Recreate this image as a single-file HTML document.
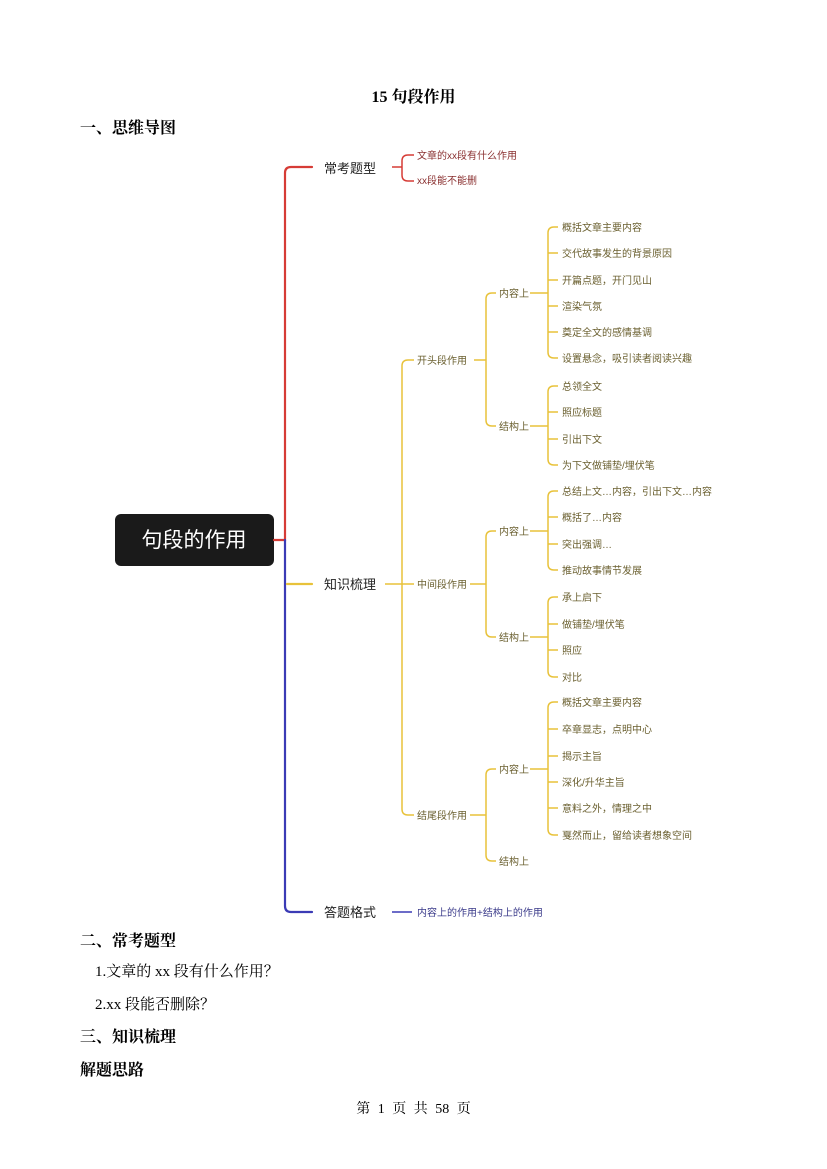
<!DOCTYPE html>
<html><head><meta charset="utf-8"><style>
html,body{margin:0;padding:0;background:#fff;}
body{width:827px;height:1169px;position:relative;overflow:hidden;font-family:"Liberation Serif","Noto Serif CJK SC","Noto Sans CJK SC",serif;color:#000;}
.t{position:absolute;white-space:nowrap;}
svg{position:absolute;left:0;top:0;}
svg text{font-family:"Liberation Sans","Noto Sans CJK SC",sans-serif;}
</style></head><body>
<div class="t" style="left:0;width:827px;text-align:center;top:84px;font-size:16px;font-weight:bold;">15 句段作用</div>
<div class="t" style="left:80px;top:115px;font-size:16px;font-weight:bold;">一、思维导图</div>
<svg width="827" height="1169" viewBox="0 0 827 1169" fill="none">
<rect x="115" y="514" width="159" height="52" rx="6" fill="#1a1a1a"/>
<text x="194" y="547" fill="#fff" font-size="21" text-anchor="middle">句段的作用</text>
<g stroke-width="2.2" stroke-linecap="round">
<path d="M274 540 H285 V173 Q285 167 291 167 H312" stroke="#d63c36"/>
<path d="M285 540 V906 Q285 912 291 912 H312" stroke="#3b3bb5"/>
<path d="M287 584 H312" stroke="#e8c23a"/>
</g>
<g stroke="#d63c36" stroke-width="1.5">
<path d="M392 167 H402"/>
<path d="M414 155 H408 Q402 155 402 161 V175 Q402 181 408 181 H414"/>
</g>
<path d="M392 912 H412" stroke="#3b3bb5" stroke-width="1.5"/>
<g stroke="#e8c23a" stroke-width="1.5">
<path d="M414 360 H408 Q402 360 402 366 V809 Q402 815 408 815 H414 M385 584 H414"/>
<path d="M474 360 H486 M496 293 H492 Q486 293 486 299 V420 Q486 426 492 426 H496"/>
<path d="M530 293 H548 M558 227 H554 Q548 227 548 233 V352 Q548 358 554 358 H558 M548 253 H558 M548 280 H558 M548 306 H558 M548 332 H558"/>
<path d="M530 426 H548 M558 386 H554 Q548 386 548 392 V459 Q548 465 554 465 H558 M548 412 H558 M548 439 H558"/>
<path d="M470 584 H486 M496 531 H492 Q486 531 486 537 V631 Q486 637 492 637 H496"/>
<path d="M530 531 H548 M558 491 H554 Q548 491 548 497 V564 Q548 570 554 570 H558 M548 517 H558 M548 544 H558"/>
<path d="M530 637 H548 M558 597 H554 Q548 597 548 603 V671 Q548 677 554 677 H558 M548 624 H558 M548 650 H558"/>
<path d="M470 815 H486 M496 769 H492 Q486 769 486 775 V855 Q486 861 492 861 H496"/>
<path d="M530 769 H548 M558 702 H554 Q548 702 548 708 V829 Q548 835 554 835 H558 M548 729 H558 M548 756 H558 M548 782 H558 M548 808 H558"/>
</g>
<g font-size="13" fill="#222">
<text x="324" y="173">常考题型</text>
<text x="324" y="589">知识梳理</text>
<text x="324" y="917">答题格式</text>
</g>
<g font-size="10" fill="#8a3030">
<text x="417" y="159">文章的xx段有什么作用</text>
<text x="417" y="184">xx段能不能删</text>
</g>
<text x="417" y="916" font-size="10" fill="#3a3a8a">内容上的作用+结构上的作用</text>
<g font-size="10" fill="#6b6030">
<text x="417" y="364">开头段作用</text>
<text x="417" y="588">中间段作用</text>
<text x="417" y="819">结尾段作用</text>
<text x="499" y="297">内容上</text>
<text x="499" y="430">结构上</text>
<text x="499" y="535">内容上</text>
<text x="499" y="641">结构上</text>
<text x="499" y="773">内容上</text>
<text x="499" y="865">结构上</text>
</g>
<g font-size="10" fill="#6b6030">
<text x="562" y="231">概括文章主要内容</text>
<text x="562" y="257">交代故事发生的背景原因</text>
<text x="562" y="284">开篇点题，开门见山</text>
<text x="562" y="310">渲染气氛</text>
<text x="562" y="336">奠定全文的感情基调</text>
<text x="562" y="362">设置悬念，吸引读者阅读兴趣</text>
<text x="562" y="390">总领全文</text>
<text x="562" y="416">照应标题</text>
<text x="562" y="443">引出下文</text>
<text x="562" y="469">为下文做铺垫/埋伏笔</text>
<text x="562" y="495">总结上文…内容，引出下文…内容</text>
<text x="562" y="521">概括了…内容</text>
<text x="562" y="548">突出强调…</text>
<text x="562" y="574">推动故事情节发展</text>
<text x="562" y="601">承上启下</text>
<text x="562" y="628">做铺垫/埋伏笔</text>
<text x="562" y="654">照应</text>
<text x="562" y="681">对比</text>
<text x="562" y="706">概括文章主要内容</text>
<text x="562" y="733">卒章显志，点明中心</text>
<text x="562" y="760">揭示主旨</text>
<text x="562" y="786">深化/升华主旨</text>
<text x="562" y="812">意料之外，情理之中</text>
<text x="562" y="839">戛然而止，留给读者想象空间</text>
</g>
</svg>
<div class="t" style="left:80px;top:928px;font-size:16px;font-weight:bold;">二、常考题型</div>
<div class="t" style="left:95px;top:960px;font-size:15px;">1.文章的 xx 段有什么作用？</div>
<div class="t" style="left:95px;top:993px;font-size:15px;">2.xx 段能否删除？</div>
<div class="t" style="left:80px;top:1024px;font-size:16px;font-weight:bold;">三、知识梳理</div>
<div class="t" style="left:80px;top:1057px;font-size:16px;font-weight:bold;">解题思路</div>
<div class="t" style="left:0;width:827px;text-align:center;top:1098px;font-size:14px;word-spacing:4px;">第 1 页 共 58 页</div>
</body></html>
